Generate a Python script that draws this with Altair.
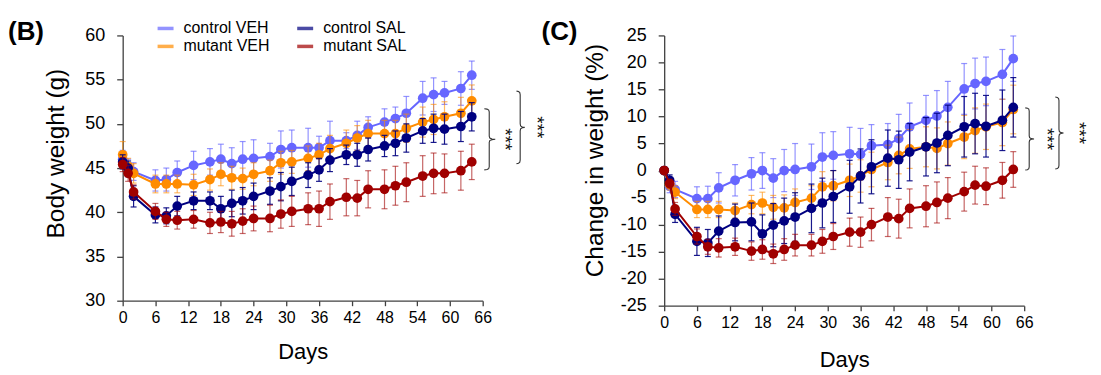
import altair as alt
import pandas as pd

FONT = "Liberation Sans"

days = [0, 1, 2, 6, 8, 10, 13, 16, 18, 20, 22, 24, 27, 29, 31, 34, 36, 38, 41, 43, 45, 48, 50, 52, 55, 57, 59, 62, 64]

legend_order = ["control VEH", "control SAL", "mutant VEH", "mutant SAL"]
draw_order = ["control VEH", "mutant VEH", "control SAL", "mutant SAL"]
colors = ["#6666FF", "#000080", "#FF8C00", "#A00000"]
err_opacity = {"control VEH": 0.7, "control SAL": 0.9, "mutant VEH": 0.6, "mutant SAL": 0.6}

# Panel B: body weight (g)
bw_cveh = [46.0, 45.0, 44.6, 43.6, 43.7, 44.5, 45.3, 45.7, 46.0, 45.5, 46.0, 46.1, 46.3, 47.1, 47.3, 47.3, 47.3, 48.1, 48.1, 48.7, 49.6, 50.2, 50.6, 51.2, 52.9, 53.3, 53.5, 54.0, 55.5]
bw_mveh = [46.5, 45.2, 44.4, 43.2, 43.2, 43.2, 43.1, 43.7, 44.3, 43.9, 43.8, 44.3, 44.7, 45.6, 45.7, 46.1, 46.5, 47.2, 47.8, 48.4, 48.9, 48.9, 48.9, 49.5, 50.2, 50.5, 50.8, 51.2, 52.6]
bw_csal = [45.7, 45.0, 41.8, 39.7, 39.6, 40.7, 41.3, 41.3, 40.4, 41.0, 41.3, 41.8, 42.4, 42.9, 43.5, 44.2, 44.8, 45.9, 46.5, 46.5, 47.1, 47.5, 47.8, 48.4, 49.2, 49.5, 49.4, 49.7, 50.8]
bw_msal = [45.4, 44.4, 42.3, 40.1, 39.2, 39.1, 39.2, 38.8, 38.9, 38.7, 39.0, 39.3, 39.3, 39.8, 40.1, 40.4, 40.4, 41.2, 41.7, 41.6, 42.6, 42.6, 43.0, 43.4, 44.1, 44.4, 44.4, 44.7, 45.7]
e_bw_cveh = [1.0, 1.0, 1.0, 1.2, 1.3, 1.3, 1.6, 1.5, 1.7, 1.8, 2.0, 2.1, 1.5, 2.1, 2.0, 2.2, 1.3, 2.2, 0.9, 1.6, 1.2, 1.5, 1.3, 1.9, 1.9, 1.9, 1.3, 1.9, 1.6]
e_bw_mveh = [1.5, 0.9, 1.1, 1.0, 1.0, 1.0, 1.2, 1.2, 1.3, 1.3, 1.2, 1.3, 1.2, 1.3, 1.3, 1.4, 1.3, 1.5, 1.5, 1.4, 1.5, 1.5, 1.5, 1.6, 1.7, 1.7, 1.7, 1.8, 1.8]
e_bw_csal = [0.8, 0.8, 1.2, 0.9, 0.9, 1.1, 1.0, 1.0, 1.4, 1.5, 1.5, 1.5, 1.5, 1.6, 1.6, 1.4, 1.3, 1.3, 1.1, 1.3, 1.3, 1.2, 1.4, 1.6, 1.4, 1.6, 1.7, 1.7, 1.6]
e_bw_msal = [0.8, 0.9, 0.8, 0.9, 0.8, 1.0, 1.0, 1.2, 1.2, 1.4, 1.4, 1.4, 1.5, 1.6, 1.7, 1.8, 2.0, 2.0, 2.1, 2.0, 2.1, 2.2, 2.2, 2.2, 2.3, 2.3, 2.2, 2.2, 2.0]

# Panel C: change in weight (%)
pc_cveh = [0, -2.9, -3.5, -5.2, -5.2, -3.2, -1.8, -0.6, 0.0, -1.4, 0.0, 0.2, 0.7, 2.5, 2.8, 3.1, 3.0, 4.6, 4.8, 5.9, 8.1, 9.3, 10.1, 11.7, 15.1, 16.1, 16.5, 17.8, 20.7]
pc_mveh = [0, -2.6, -4.0, -7.2, -7.2, -7.2, -7.4, -6.3, -6.0, -6.8, -6.9, -5.9, -5.1, -3.0, -2.8, -1.8, -1.0, 0.2, 1.5, 2.8, 4.0, 4.4, 4.1, 5.0, 6.2, 7.4, 8.1, 8.9, 11.3]
pc_csal = [0, -1.8, -8.1, -13.1, -13.4, -11.2, -9.6, -9.5, -11.7, -10.1, -9.3, -8.6, -7.0, -6.0, -4.8, -3.0, -1.0, 0.7, 2.3, 2.0, 3.4, 4.4, 5.1, 6.5, 8.1, 8.7, 8.2, 9.3, 11.7]
pc_msal = [0, -2.4, -7.1, -12.2, -14.1, -14.3, -14.1, -14.9, -14.6, -15.4, -14.6, -13.8, -13.8, -13.1, -12.2, -11.4, -11.4, -10.0, -8.6, -8.9, -7.0, -6.6, -5.9, -5.1, -3.9, -2.7, -2.9, -1.8, 0.2]
e_pc_cveh = [0, 1.2, 1.5, 2.2, 2.3, 2.8, 2.9, 3.0, 3.3, 3.6, 3.9, 4.8, 4.2, 4.5, 4.4, 4.9, 4.8, 3.9, 3.9, 4.5, 4.4, 4.6, 4.7, 4.8, 4.7, 4.7, 4.5, 4.6, 4.2]
e_pc_mveh = [0, 1.0, 1.2, 1.5, 1.5, 1.5, 1.4, 1.7, 2.0, 2.2, 2.4, 2.5, 2.3, 2.8, 2.8, 3.0, 3.0, 3.2, 3.2, 3.4, 3.6, 3.7, 3.8, 4.0, 4.0, 4.2, 4.2, 4.3, 4.5]
e_pc_csal = [0, 1.0, 1.5, 2.6, 2.5, 2.8, 3.4, 3.5, 3.5, 4.0, 4.2, 4.5, 4.5, 4.6, 4.8, 4.9, 5.0, 5.0, 5.2, 5.3, 5.3, 5.4, 5.5, 5.6, 5.6, 5.6, 5.7, 5.6, 5.5]
e_pc_msal = [0, 0.8, 1.2, 1.4, 1.4, 1.7, 1.6, 1.7, 1.8, 1.8, 2.0, 2.0, 2.0, 2.2, 2.4, 2.6, 2.8, 3.0, 3.6, 3.6, 3.6, 3.8, 3.8, 3.8, 3.6, 3.5, 3.4, 3.3, 3.3]

x_ticks = list(range(0, 67, 6))
bw_ticks = list(range(30, 61, 5))
pc_ticks = list(range(-25, 26, 5))

# significance brackets (x = left end in days, top/bottom in data units)
br_B_x = [66.3, 72.2]
br_B_top = [51.7, 53.7]
br_B_bot = [44.8, 45.5]
br_B_w = [2.0, 1.5]
star_B_x = [70.0, 76.0]

br_C_x = [66.2, 71.7]
br_C_top = [11.6, 13.6]
br_C_bot = [0.1, 0.3]
br_C_w = [1.6, 1.5]
star_C_x = [70.2, 76.0]

panel_labels = ["(B)", "(C)"]

brace_u = [0, 0.25, 0.4, 0.45, 0.45, 0.5, 0.7, 1.0, 0.7, 0.5, 0.45, 0.45, 0.4, 0.25, 0]
brace_v = [0, 0.005, 0.02, 0.05, 0.45, 0.48, 0.495, 0.5, 0.505, 0.52, 0.55, 0.95, 0.98, 0.995, 1.0]

LABEL_EXPR = "datum.value < 0 ? '-' + abs(datum.value) : '' + datum.value"


def long_df(vals, errs):
    rows = []
    for name, v, e in zip(legend_order, vals, errs):
        for d, vv, ee in zip(days, v, e):
            rows.append({"day": d, "series": name, "value": vv, "lo": vv - ee, "hi": vv + ee})
    return pd.DataFrame(rows)


def brace_df(xs, tops, bots, ws):
    rows = []
    for b, (x0, t, bo, w) in enumerate(zip(xs, tops, bots, ws)):
        for k, (u, v) in enumerate(zip(brace_u, brace_v)):
            rows.append({"b": b, "k": k, "bx": x0 + u * w, "by": t - v * (t - bo)})
    return pd.DataFrame(rows)


def panel(df, ydom, yticks, ytitle, ytitle_y, ytitle_pad, xtitle_pad, xs, tops, bots, ws, sx, label,
          label_x, label_y, width, height, legend):
    xsc = alt.Scale(domain=[0, 66], nice=False, zero=False)
    ysc = alt.Scale(domain=ydom, nice=False, zero=False)
    xax = alt.Axis(values=x_ticks, title="Days", grid=False, labelFontSize=16, titleFontSize=22,
                   tickSize=5, labelPadding=4, titlePadding=xtitle_pad, labelFlush=False, labelOverlap=False)
    yax = alt.Axis(values=yticks, title=ytitle, grid=False, labelFontSize=18, titleFontSize=24.5,
                   tickSize=6, labelPadding=12, titlePadding=ytitle_pad, labelFlush=False, labelOverlap=False,
                   labelExpr=LABEL_EXPR, titleY=ytitle_y)
    col = alt.Color("series:N", scale=alt.Scale(domain=legend_order, range=colors), legend=legend)

    def X(f):
        return alt.X(f, scale=xsc, axis=xax)

    def Y(f):
        return alt.Y(f, scale=ysc, axis=yax)

    layers = []
    for s in draw_order:
        base = alt.Chart(df[df["series"] == s])
        op = err_opacity[s]
        layers.append(base.mark_rule(strokeWidth=1.2, opacity=op).encode(
            x=X("day:Q"), y=Y("lo:Q"), y2="hi:Q", color=col))
        layers.append(base.mark_tick(orient="horizontal", size=6, thickness=1.2, opacity=op).encode(
            x=X("day:Q"), y=Y("lo:Q"), color=col))
        layers.append(base.mark_tick(orient="horizontal", size=6, thickness=1.2, opacity=op).encode(
            x=X("day:Q"), y=Y("hi:Q"), color=col))
        layers.append(base.mark_line(strokeWidth=2).encode(
            x=X("day:Q"), y=Y("value:Q"), color=col))
        layers.append(base.mark_circle(size=95, opacity=1).encode(
            x=X("day:Q"), y=Y("value:Q"), color=col))
    bdf = brace_df(xs, tops, bots, ws)
    layers.append(alt.Chart(bdf).mark_line(color="#333333", strokeWidth=1.1, clip=False).encode(
        x=X("bx:Q"), y=Y("by:Q"), detail="b:N", order="k:Q"))
    sdf = pd.DataFrame({"sx": sx, "sy": [(t + b) / 2 for t, b in zip(tops, bots)], "t": ["***"] * len(sx)})
    layers.append(alt.Chart(sdf).mark_text(angle=90, fontSize=19, font=FONT, color="#111111",
                                           align="center", baseline="middle", clip=False).encode(
        x=X("sx:Q"), y=Y("sy:Q"), text="t:N"))
    ldf = pd.DataFrame({"t": [label]})
    layers.append(alt.Chart(ldf).mark_text(fontSize=26, fontWeight="bold", font=FONT, align="left",
                                           baseline="alphabetic", color="#000000").encode(
        x=alt.value(label_x), y=alt.value(label_y), text="t:N"))
    return alt.layer(*layers).properties(width=width, height=height)


df_B = long_df([bw_cveh, bw_csal, bw_mveh, bw_msal], [e_bw_cveh, e_bw_csal, e_bw_mveh, e_bw_msal])
df_C = long_df([pc_cveh, pc_csal, pc_mveh, pc_msal], [e_pc_cveh, e_pc_csal, e_pc_mveh, e_pc_msal])

leg = alt.Legend(orient="none", legendX=33, legendY=-17, columns=2, direction="horizontal", title=None,
                 symbolType="stroke", symbolStrokeWidth=3.5, symbolSize=256, labelFontSize=16,
                 labelFont=FONT, columnPadding=20, rowPadding=0, labelOffset=8, labelColor="#000000")

left = panel(df_B, [30, 60], bw_ticks, "Body weight (g)", 118, 16, 16, br_B_x, br_B_top, br_B_bot, br_B_w,
             star_B_x, panel_labels[0], -115, 5, 361, 266, leg)
right = panel(df_C, [-25, 25], pc_ticks, "Change in weight (%)", 125, 13, 19, br_C_x, br_C_top, br_C_bot,
              br_C_w, star_C_x, panel_labels[1], -123, 5, 361, 271, None)

chart = alt.hconcat(left, right, spacing=182, bounds="flush").resolve_scale(
    color="independent").properties(padding={"left": 0, "top": 10, "right": 5, "bottom": 5}).configure(
    font=FONT).configure_view(stroke=None).configure_axis(
    domainColor="#404040", tickColor="#404040", labelColor="#000000", titleColor="#000000",
    labelFont=FONT, titleFont=FONT, titleFontWeight="normal", domainWidth=1.3, tickWidth=1.3,
    labelOverlap=False)

chart.save("out.html", embed_options={"renderer": "svg", "actions": False})
